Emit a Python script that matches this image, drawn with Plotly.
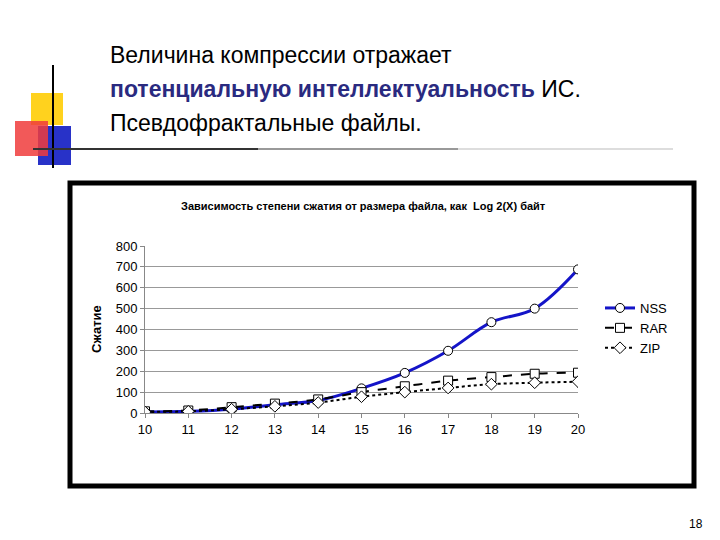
import plotly.graph_objects as go

# Chart data
sizes = [10, 11, 12, 13, 14, 15, 16, 17, 18, 19, 20]
nss = [5, 8, 18, 40, 60, 118, 192, 298, 435, 500, 688]
rar = [8, 12, 28, 45, 65, 100, 128, 155, 172, 188, 193]
zip_ = [5, 8, 18, 32, 50, 78, 100, 120, 138, 145, 150]
y_ticks = [0, 100, 200, 300, 400, 500, 600, 700, 800]

W, H = 720, 540
def px(x): return x / W
def py(y): return 1 - y / H

fig = go.Figure()
fig.add_trace(go.Scatter(x=sizes, y=nss, name='NSS', mode='lines+markers', line_shape='spline',
                         line=dict(color='#1414c8', width=3),
                         marker=dict(symbol='circle', size=9, color='white', line=dict(color='black', width=1))))
fig.add_trace(go.Scatter(x=sizes, y=rar, name='RAR', mode='lines+markers', line_shape='spline',
                         line=dict(color='black', width=2, dash='dash'),
                         marker=dict(symbol='square', size=9, color='white', line=dict(color='black', width=1))))
fig.add_trace(go.Scatter(x=sizes, y=zip_, name='ZIP', mode='lines+markers', line_shape='spline',
                         line=dict(color='black', width=2, dash='dot'),
                         marker=dict(symbol='diamond', size=9, color='white', line=dict(color='black', width=1))))

shapes = [
    # chart frame
    dict(type='rect', x0=px(62), x1=px(686), y0=py(175), y1=py(478), line=dict(color='black', width=5)),
    # slide decoration
    dict(type='rect', x0=px(23), x1=px(55), y0=py(85), y1=py(117), fillcolor='#ffd21e', line_width=0, layer='below'),
    dict(type='rect', x0=px(30), x1=px(63), y0=py(118), y1=py(157), fillcolor='#2832c8', line_width=0, layer='below'),
    dict(type='rect', x0=px(7), x1=px(40), y0=py(113), y1=py(148), fillcolor='rgba(240,60,60,0.85)', line_width=0, layer='below'),
    dict(type='line', x0=px(45), x1=px(45), y0=py(57), y1=py(160), line=dict(color='black', width=2)),
    dict(type='line', x0=px(25), x1=px(250), y0=py(141), y1=py(141), line=dict(color='#333333', width=2)),
    dict(type='line', x0=px(250), x1=px(450), y0=py(141), y1=py(141), line=dict(color='#999999', width=2)),
    dict(type='line', x0=px(450), x1=px(665), y0=py(141), y1=py(141), line=dict(color='#dddddd', width=2)),
]
for s in shapes:
    s.update(xref='paper', yref='paper')

title_font = dict(family='Liberation Sans, Arial', size=23, color='black')
annotations = [
    dict(x=px(100), y=py(47), text='Величина компрессии отражает', font=title_font),
    dict(x=px(100), y=py(81), text='<b><span style="color:#2a2a80">потенциальную интеллектуальность</span></b> ИС.', font=title_font),
    dict(x=px(100), y=py(115), text='Псевдофрактальные файлы.', font=title_font),
    dict(x=px(355), y=py(198), xanchor='center', text='<b>Зависимость степени сжатия от размера файла, как  Log 2(X) байт</b>',
         font=dict(family='Liberation Sans, Arial', size=11, color='black')),
    dict(x=px(88), y=py(321), xanchor='center', textangle=-90, text='<b>Сжатие</b>',
         font=dict(family='Liberation Sans, Arial', size=13, color='black')),
    dict(x=px(688), y=py(516), xanchor='center', text='18', font=dict(family='Liberation Sans, Arial', size=12, color='black')),
]
for a in annotations:
    a.update(xref='paper', yref='paper', showarrow=False)
    a.setdefault('xanchor', 'left')
    a['yanchor'] = 'middle'

fig.update_layout(
    width=W, height=H, margin=dict(l=0, r=0, t=0, b=0),
    paper_bgcolor='white', plot_bgcolor='white',
    shapes=shapes, annotations=annotations,
    font=dict(family='Liberation Sans, Arial', size=13, color='black'),
    xaxis=dict(domain=[px(137), px(570)], range=[10, 20], tickvals=sizes, showgrid=False, automargin=False,
               showline=True, linecolor='#888888', ticks='outside', ticklen=4, tickcolor='#888888', zeroline=False),
    yaxis=dict(domain=[py(405), py(238)], range=[0, 800], tickvals=y_ticks, gridcolor='#999999', automargin=False,
               showline=True, linecolor='#888888', ticks='outside', ticklen=4, tickcolor='#888888', zeroline=False),
    legend=dict(x=px(592), y=py(285), xanchor='left', yanchor='top', font=dict(size=13),
                bgcolor='rgba(0,0,0,0)', tracegroupgap=2),
)

fig.write_html("out.html")
